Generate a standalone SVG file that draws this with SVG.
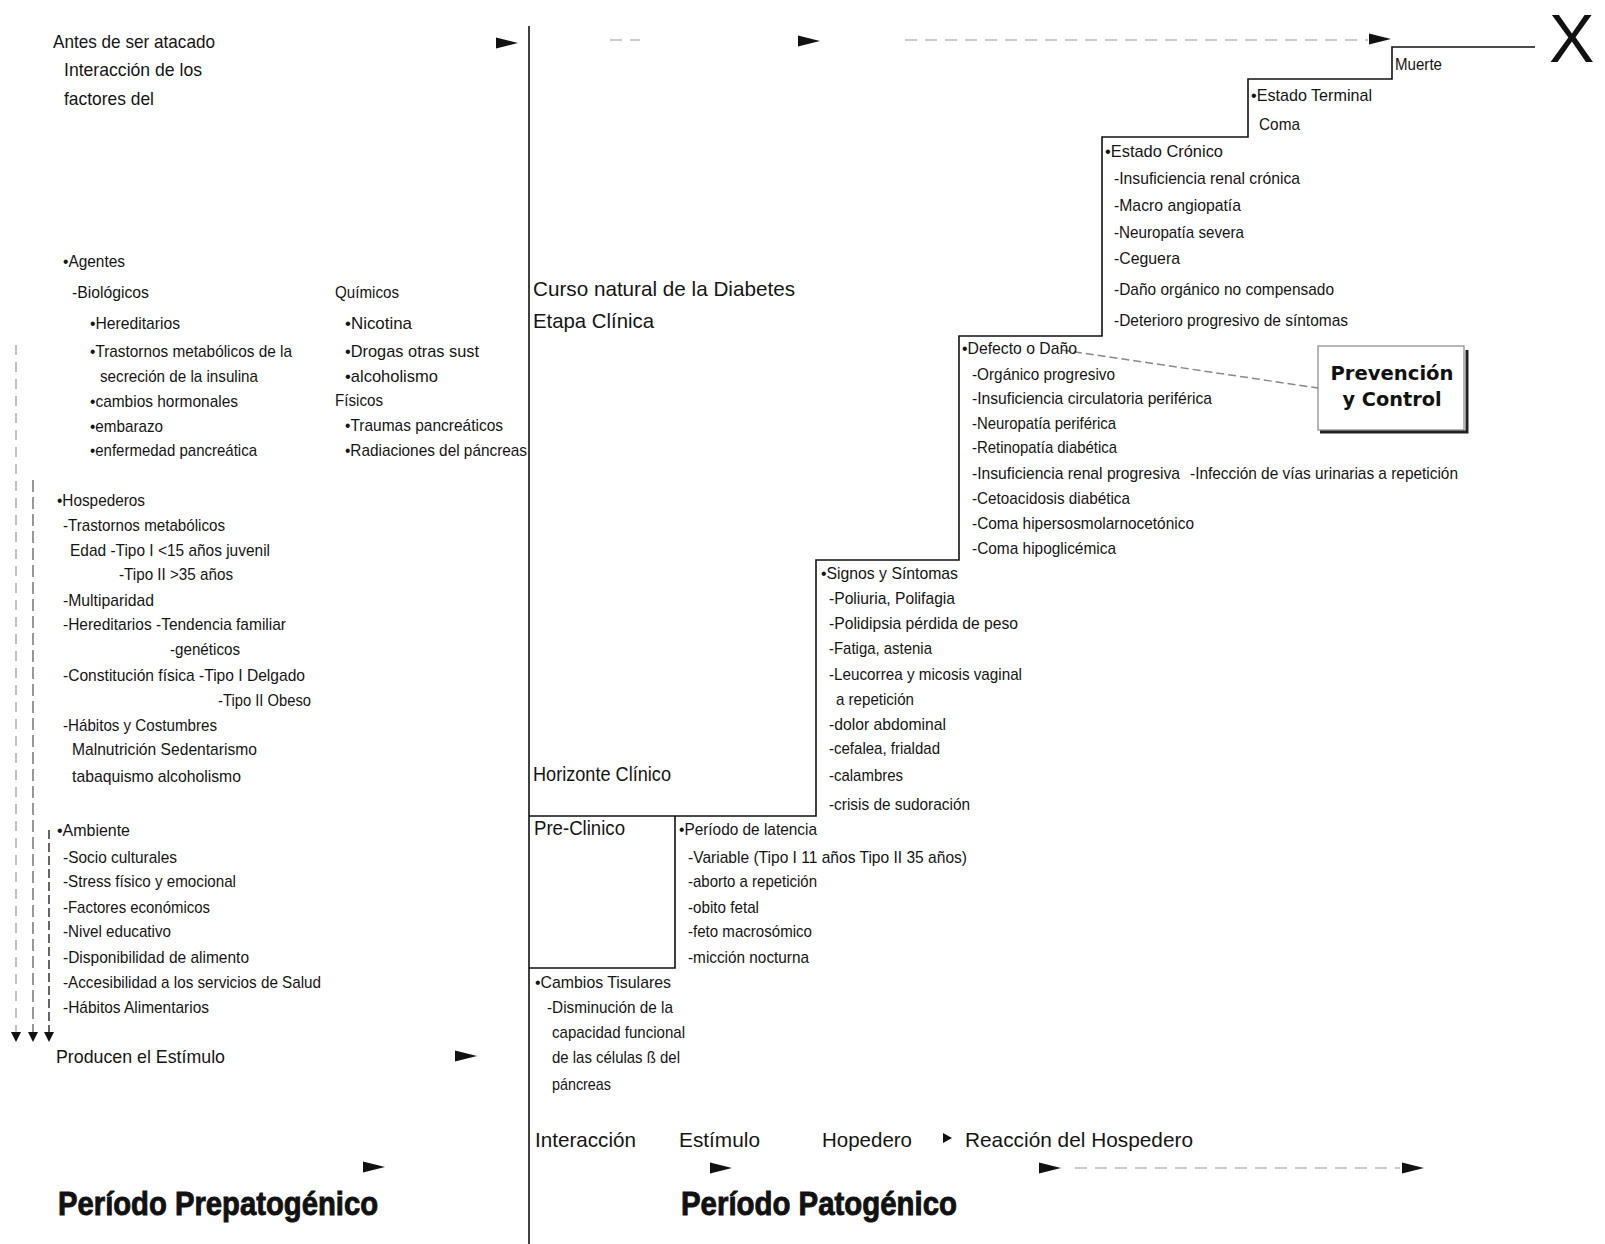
<svg xmlns="http://www.w3.org/2000/svg" xmlns:xlink="http://www.w3.org/1999/xlink" width="1605" height="1244" viewBox="0 0 1605 1244">
<style>
.t{font-family:"Liberation Sans Narrow","Liberation Sans",Arial,sans-serif;font-size:17px;fill:#151515}
.m{font-size:21px}
.l{font-size:19px}
.h{font-family:"Liberation Sans",Arial,sans-serif;font-weight:bold;font-size:33px;fill:#111;stroke:#111;stroke-width:0.9}
.pc{font-family:"DejaVu Sans",sans-serif;font-weight:bold;font-size:19px;fill:#111}
.ln{fill:none;stroke:#111;stroke-width:1.6}
.faint{fill:none;stroke:#bbb;stroke-width:1.5;stroke-dasharray:12 8}
.ah{fill:#111}
</style>
<defs>
<polygon id="arr" points="0,-5.5 22,0 0,5.5"/>
<polygon id="arrd" points="-5,-9 5,-9 0,1"/>
</defs>
<rect width="1605" height="1244" fill="#fff"/>

<g id="connectors">
<path class="ln" d="M529,26 V1244" stroke-width="2"/>
<path class="ln" d="M529,968 H675 V816"/>
<path class="ln" d="M529,816 H816 V560 H959 V336 H1102 V137 H1248 V79 H1392 V47 H1535"/>
<path class="faint" d="M905,40 H1368"/>
<path class="faint" d="M610,40 H640"/>
<path class="faint" d="M1075,1168 H1400"/>
<path fill="none" stroke="#aaa" stroke-width="1.5" stroke-dasharray="10 7" d="M16,345 V1032"/>
<path fill="none" stroke="#777" stroke-width="1.5" stroke-dasharray="12 5" d="M33,480 V1032"/>
<path fill="none" stroke="#333" stroke-width="1.5" stroke-dasharray="9 4" d="M49,830 V1032"/>
<use xlink:href="#arrd" class="ah" x="16" y="1041"/>
<use xlink:href="#arrd" class="ah" x="33" y="1041"/>
<use xlink:href="#arrd" class="ah" x="49" y="1041"/>
<use xlink:href="#arr" class="ah" x="496" y="43"/>
<use xlink:href="#arr" class="ah" x="798" y="41"/>
<use xlink:href="#arr" class="ah" x="1369" y="39"/>
<use xlink:href="#arr" class="ah" x="455" y="1056"/>
<use xlink:href="#arr" class="ah" x="363" y="1167"/>
<use xlink:href="#arr" class="ah" x="710" y="1168"/>
<use xlink:href="#arr" class="ah" x="1039" y="1168"/>
<use xlink:href="#arr" class="ah" x="1402" y="1168"/>
<polygon class="ah" points="943,1133 952,1138 943,1143"/>
<path fill="none" stroke="#888" stroke-width="1.5" stroke-dasharray="8 4" d="M1062,350 L1318,388"/>
</g>

<g id="intro">
<text class="t l" x="53" y="48" textLength="162" lengthAdjust="spacingAndGlyphs">Antes de ser atacado</text>
<text class="t l" x="64" y="76" textLength="138" lengthAdjust="spacingAndGlyphs">Interacción de los</text>
<text class="t l" x="64" y="105" textLength="90" lengthAdjust="spacingAndGlyphs">factores del</text>
</g>

<g id="agentes">
<text class="t" x="63" y="267" textLength="62" lengthAdjust="spacingAndGlyphs">•Agentes</text>
<text class="t" x="72" y="298" textLength="77" lengthAdjust="spacingAndGlyphs">-Biológicos</text>
<text class="t" x="90" y="329" textLength="90" lengthAdjust="spacingAndGlyphs">•Hereditarios</text>
<text class="t" x="90" y="357" textLength="202" lengthAdjust="spacingAndGlyphs">•Trastornos metabólicos de la</text>
<text class="t" x="100" y="382" textLength="158" lengthAdjust="spacingAndGlyphs">secreción de la insulina</text>
<text class="t" x="90" y="407" textLength="148" lengthAdjust="spacingAndGlyphs">•cambios hormonales</text>
<text class="t" x="90" y="432" textLength="73" lengthAdjust="spacingAndGlyphs">•embarazo</text>
<text class="t" x="90" y="456" textLength="167" lengthAdjust="spacingAndGlyphs">•enfermedad pancreática</text>
</g>

<g id="quimicos-fisicos">
<text class="t" x="335" y="298" textLength="64" lengthAdjust="spacingAndGlyphs">Químicos</text>
<text class="t" x="345" y="329" textLength="67" lengthAdjust="spacingAndGlyphs">•Nicotina</text>
<text class="t" x="345" y="357" textLength="134" lengthAdjust="spacingAndGlyphs">•Drogas  otras sust</text>
<text class="t" x="345" y="382" textLength="93" lengthAdjust="spacingAndGlyphs">•alcoholismo</text>
<text class="t" x="335" y="406" textLength="48" lengthAdjust="spacingAndGlyphs">Físicos</text>
<text class="t" x="345" y="431" textLength="158" lengthAdjust="spacingAndGlyphs">•Traumas pancreáticos</text>
<text class="t" x="345" y="456" textLength="182" lengthAdjust="spacingAndGlyphs">•Radiaciones del páncreas</text>
</g>

<g id="hospederos">
<text class="t" x="57" y="506" textLength="88" lengthAdjust="spacingAndGlyphs">•Hospederos</text>
<text class="t" x="63" y="531" textLength="162" lengthAdjust="spacingAndGlyphs">-Trastornos metabólicos</text>
<text class="t" x="70" y="556" textLength="200" lengthAdjust="spacingAndGlyphs">Edad  -Tipo I &lt;15 años juvenil</text>
<text class="t" x="119" y="580" textLength="114" lengthAdjust="spacingAndGlyphs">-Tipo II &gt;35 años</text>
<text class="t" x="63" y="606" textLength="91" lengthAdjust="spacingAndGlyphs">-Multiparidad</text>
<text class="t" x="63" y="630" textLength="223" lengthAdjust="spacingAndGlyphs">-Hereditarios  -Tendencia familiar</text>
<text class="t" x="170" y="655" textLength="70" lengthAdjust="spacingAndGlyphs">-genéticos</text>
<text class="t" x="63" y="681" textLength="242" lengthAdjust="spacingAndGlyphs">-Constitución física  -Tipo I Delgado</text>
<text class="t" x="218" y="706" textLength="93" lengthAdjust="spacingAndGlyphs">-Tipo II Obeso</text>
<text class="t" x="63" y="731" textLength="154" lengthAdjust="spacingAndGlyphs">-Hábitos y Costumbres</text>
<text class="t" x="72" y="755" textLength="185" lengthAdjust="spacingAndGlyphs">Malnutrición  Sedentarismo</text>
<text class="t" x="72" y="782" textLength="169" lengthAdjust="spacingAndGlyphs">tabaquismo  alcoholismo</text>
</g>

<g id="ambiente">
<text class="t" x="57" y="836" textLength="73" lengthAdjust="spacingAndGlyphs">•Ambiente</text>
<text class="t" x="63" y="863" textLength="114" lengthAdjust="spacingAndGlyphs">-Socio culturales</text>
<text class="t" x="63" y="887" textLength="173" lengthAdjust="spacingAndGlyphs">-Stress físico y emocional</text>
<text class="t" x="63" y="913" textLength="147" lengthAdjust="spacingAndGlyphs">-Factores económicos</text>
<text class="t" x="63" y="937" textLength="108" lengthAdjust="spacingAndGlyphs">-Nivel educativo</text>
<text class="t" x="63" y="963" textLength="186" lengthAdjust="spacingAndGlyphs">-Disponibilidad de alimento</text>
<text class="t" x="63" y="988" textLength="258" lengthAdjust="spacingAndGlyphs">-Accesibilidad a los servicios de Salud</text>
<text class="t" x="63" y="1013" textLength="146" lengthAdjust="spacingAndGlyphs">-Hábitos Alimentarios</text>
</g>

<g id="producen">
<text class="t l" x="56" y="1063" textLength="169" lengthAdjust="spacingAndGlyphs">Producen el Estímulo</text>
</g>

<g id="curso-natural">
<text class="t m" x="533" y="296" textLength="262" lengthAdjust="spacingAndGlyphs">Curso natural de la Diabetes</text>
<text class="t m" x="533" y="328" textLength="121" lengthAdjust="spacingAndGlyphs">Etapa Clínica</text>
</g>

<g id="horizonte">
<text class="t m" x="533" y="781" textLength="138" lengthAdjust="spacingAndGlyphs">Horizonte Clínico</text>
</g>

<g id="pre-clinico">
<text class="t m" x="534" y="835" textLength="91" lengthAdjust="spacingAndGlyphs">Pre-Clinico</text>
</g>

<g id="latencia">
<text class="t" x="679" y="835" textLength="138" lengthAdjust="spacingAndGlyphs">•Período de latencia</text>
<text class="t" x="688" y="863" textLength="279" lengthAdjust="spacingAndGlyphs">-Variable (Tipo I 11 años  Tipo II 35 años)</text>
<text class="t" x="688" y="887" textLength="129" lengthAdjust="spacingAndGlyphs">-aborto a repetición</text>
<text class="t" x="688" y="913" textLength="71" lengthAdjust="spacingAndGlyphs">-obito fetal</text>
<text class="t" x="688" y="937" textLength="124" lengthAdjust="spacingAndGlyphs">-feto macrosómico</text>
<text class="t" x="688" y="963" textLength="121" lengthAdjust="spacingAndGlyphs">-micción nocturna</text>
</g>

<g id="cambios-tisulares">
<text class="t" x="535" y="988" textLength="136" lengthAdjust="spacingAndGlyphs">•Cambios Tisulares</text>
<text class="t" x="547" y="1013" textLength="126" lengthAdjust="spacingAndGlyphs">-Disminución de la</text>
<text class="t" x="552" y="1038" textLength="133" lengthAdjust="spacingAndGlyphs">capacidad funcional</text>
<text class="t" x="552" y="1063" textLength="128" lengthAdjust="spacingAndGlyphs">de las células ß del</text>
<text class="t" x="552" y="1090" textLength="59" lengthAdjust="spacingAndGlyphs">páncreas</text>
</g>

<g id="signos">
<text class="t" x="821" y="579" textLength="137" lengthAdjust="spacingAndGlyphs">•Signos y Síntomas</text>
<text class="t" x="829" y="604" textLength="126" lengthAdjust="spacingAndGlyphs">-Poliuria, Polifagia</text>
<text class="t" x="829" y="629" textLength="189" lengthAdjust="spacingAndGlyphs">-Polidipsia  pérdida de peso</text>
<text class="t" x="829" y="654" textLength="103" lengthAdjust="spacingAndGlyphs">-Fatiga, astenia</text>
<text class="t" x="829" y="680" textLength="193" lengthAdjust="spacingAndGlyphs">-Leucorrea y micosis vaginal</text>
<text class="t" x="836" y="705" textLength="78" lengthAdjust="spacingAndGlyphs">a repetición</text>
<text class="t" x="829" y="730" textLength="117" lengthAdjust="spacingAndGlyphs">-dolor abdominal</text>
<text class="t" x="829" y="754" textLength="111" lengthAdjust="spacingAndGlyphs">-cefalea, frialdad</text>
<text class="t" x="829" y="781" textLength="74" lengthAdjust="spacingAndGlyphs">-calambres</text>
<text class="t" x="829" y="810" textLength="141" lengthAdjust="spacingAndGlyphs">-crisis de sudoración</text>
</g>

<g id="defecto">
<text class="t" x="962" y="354" textLength="115" lengthAdjust="spacingAndGlyphs">•Defecto o Daño</text>
<text class="t" x="972" y="380" textLength="143" lengthAdjust="spacingAndGlyphs">-Orgánico progresivo</text>
<text class="t" x="972" y="404" textLength="240" lengthAdjust="spacingAndGlyphs">-Insuficiencia circulatoria periférica</text>
<text class="t" x="972" y="429" textLength="144" lengthAdjust="spacingAndGlyphs">-Neuropatía periférica</text>
<text class="t" x="972" y="453" textLength="145" lengthAdjust="spacingAndGlyphs">-Retinopatía diabética</text>
<text class="t" x="972" y="479" textLength="208" lengthAdjust="spacingAndGlyphs">-Insuficiencia renal progresiva</text>
<text class="t" x="1190" y="479" textLength="268" lengthAdjust="spacingAndGlyphs">-Infección de vías urinarias a repetición</text>
<text class="t" x="972" y="504" textLength="158" lengthAdjust="spacingAndGlyphs">-Cetoacidosis diabética</text>
<text class="t" x="972" y="529" textLength="222" lengthAdjust="spacingAndGlyphs">-Coma hipersosmolarnocetónico</text>
<text class="t" x="972" y="554" textLength="144" lengthAdjust="spacingAndGlyphs">-Coma hipoglicémica</text>
</g>

<g id="cronico">
<text class="t" x="1105" y="157" textLength="118" lengthAdjust="spacingAndGlyphs">•Estado Crónico</text>
<text class="t" x="1114" y="184" textLength="186" lengthAdjust="spacingAndGlyphs">-Insuficiencia renal crónica</text>
<text class="t" x="1114" y="211" textLength="127" lengthAdjust="spacingAndGlyphs">-Macro angiopatía</text>
<text class="t" x="1114" y="238" textLength="130" lengthAdjust="spacingAndGlyphs">-Neuropatía severa</text>
<text class="t" x="1114" y="264" textLength="66" lengthAdjust="spacingAndGlyphs">-Ceguera</text>
<text class="t" x="1114" y="295" textLength="220" lengthAdjust="spacingAndGlyphs">-Daño orgánico no compensado</text>
<text class="t" x="1114" y="326" textLength="234" lengthAdjust="spacingAndGlyphs">-Deterioro progresivo de síntomas</text>
</g>

<g id="terminal">
<text class="t" x="1251" y="101" textLength="121" lengthAdjust="spacingAndGlyphs">•Estado Terminal</text>
<text class="t" x="1259" y="130" textLength="41" lengthAdjust="spacingAndGlyphs">Coma</text>
</g>

<g id="muerte">
<text class="t" x="1395" y="70" textLength="47" lengthAdjust="spacingAndGlyphs">Muerte</text>
<text x="1549" y="62" font-family="Liberation Sans, Arial, sans-serif" font-size="68" fill="#111">X</text>
</g>

<g id="prevencion">
<rect x="1318" y="346" width="146" height="84" fill="#fff" stroke="#888" stroke-width="1.2"/>
<path d="M1320,432 H1467 V350" fill="none" stroke="#222" stroke-width="3"/>
<text class="pc" x="1392" y="380" text-anchor="middle" textLength="123" lengthAdjust="spacingAndGlyphs">Prevención</text>
<text class="pc" x="1392" y="406" text-anchor="middle" textLength="99" lengthAdjust="spacingAndGlyphs">y Control</text>
</g>

<g id="bottom-labels">
<text class="t m" x="535" y="1147" textLength="101" lengthAdjust="spacingAndGlyphs">Interacción</text>
<text class="t m" x="679" y="1147" textLength="81" lengthAdjust="spacingAndGlyphs">Estímulo</text>
<text class="t m" x="822" y="1147" textLength="90" lengthAdjust="spacingAndGlyphs">Hopedero</text>
<text class="t m" x="965" y="1147" textLength="228" lengthAdjust="spacingAndGlyphs">Reacción del Hospedero</text>
</g>

<g id="periodo-prepatogenico">
<text class="h" x="58" y="1215" textLength="320" lengthAdjust="spacingAndGlyphs">Período Prepatogénico</text>
</g>
<g id="periodo-patogenico">
<text class="h" x="681" y="1215" textLength="276" lengthAdjust="spacingAndGlyphs">Período Patogénico</text>
</g>
</svg>
